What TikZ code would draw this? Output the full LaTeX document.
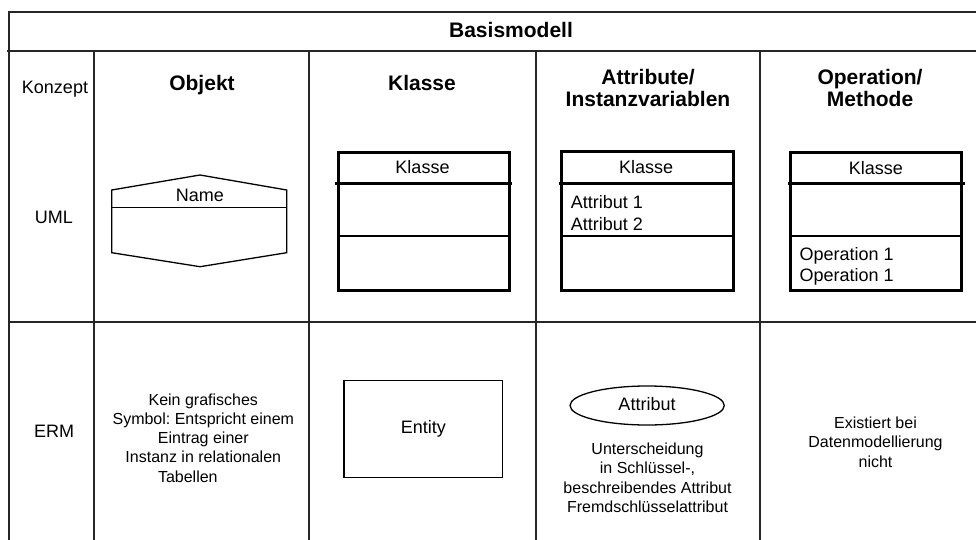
\documentclass[tikz,border=0pt]{standalone}
\usepackage{fontspec}
\setmainfont{Liberation Sans}
\usetikzlibrary{shapes.geometric}
\frenchspacing
\begin{document}
\begin{tikzpicture}[x=1pt,y=-1pt,
  grid/.style={line width=1.3pt, black!85},
  umlbox/.style={line width=3pt},
  umlsep/.style={line width=2.6pt},
  umlthin/.style={line width=1.3pt},
  shape line/.style={line width=1.3pt},
  head/.style={font=\fontsize{21}{22}\selectfont\bfseries, align=center, inner sep=0pt},
  lbl/.style={font=\fontsize{18}{20}\selectfont, inner sep=0pt},
  note/.style={font=\fontsize{16}{19.3}\selectfont, align=center, inner sep=0pt}]
\useasboundingbox (0,0) rectangle (976,540);

% table rules
\draw[grid] (9,540) -- (9,12) -- (976,12);
\draw[grid] (7,51) -- (976,51);
\draw[grid] (9,322) -- (976,322);
\foreach \x in {94,309,536,760} \draw[grid] (\x,51) -- (\x,540);

% title and column headers
\node[head] (title) at (511,30) {Basismodell};
\node[lbl, anchor=base] (konzept) at (55,93.3) {Konzept};
\node[head, anchor=base] (hobj) at (202,91) {Objekt};
\node[head, anchor=base] (hkl) at (422,91) {Klasse};
\node[head] (hattr) at (648,88) {Attribute/\\Instanzvariablen};
\node[head] (hop) at (870,88) {Operation/\\Methode};

% row labels
\node[lbl, anchor=base] (uml) at (54,223) {UML};
\node[lbl, anchor=base] (erm) at (54,437) {ERM};

% UML object symbol
\draw[shape line] (111.7,190) -- (200,175) -- (286.7,190) -- (286.7,252.7)
  -- (200,266.7) -- (111.7,252.7) -- cycle;
\draw[shape line] (110.7,207.7) -- (287.3,207.7);
\node[lbl, anchor=base] (name) at (200,201) {Name};

% UML class: Klasse
\draw[umlbox] (338.3,152.7) rectangle (509,290);
\draw[umlsep] (335,183.3) -- (511.7,183.3);
\draw[umlthin] (338.3,236) -- (509,236);
\node[lbl, anchor=base] (k1) at (422.5,173.3) {Klasse};

% UML class with attributes
\draw[umlbox] (561.7,151.7) rectangle (733.3,290);
\draw[umlsep] (559,183.3) -- (734.7,183.3);
\draw[umlthin] (561.7,236) -- (733.3,236);
\node[lbl, anchor=base] (k2) at (646.2,173.3) {Klasse};
\node[lbl, anchor=base west] (a1) at (570.7,208.3) {Attribut 1};
\node[lbl, anchor=base west] (a2) at (570.7,230) {Attribut 2};

% UML class with operations
\draw[umlbox] (790.7,152.7) rectangle (961.7,290);
\draw[umlsep] (788,183.3) -- (965,183.3);
\draw[umlthin] (790.7,236) -- (961.7,236);
\node[lbl, anchor=base] (k3) at (875.8,175) {Klasse};
\node[lbl, anchor=base west] (o1) at (799.3,260.7) {Operation 1};
\node[lbl, anchor=base west] (o2) at (799.3,281.7) {Operation 1};

% ERM row
\node[note] (objnote) at (203.3,437.9) {Kein grafisches\\Symbol: Entspricht einem\\Eintrag einer\hspace*{8pt}\\Instanz in relationalen\\Tabellen\hspace*{31pt}};
\node[draw, shape line, lbl, minimum width=158.7pt, minimum height=97pt] (entity) at (423.35,429.2) {Entity};
\node[draw, shape line, ellipse, minimum width=154.3pt, minimum height=39pt, inner sep=0pt] (attr) at (647.15,405.5) {};
\node[lbl, anchor=base] (attrlbl) at (647,410) {Attribut};
\node[note] (attnote) at (647.5,477.8) {Unterscheidung\\in Schlüssel-,\\beschreibendes Attribut\hspace*{32pt}\\Fremdschlüsselattribut};
\node[note] (opnote) at (875.5,442) {Existiert bei\\Datenmodellierung\\nicht};
\end{tikzpicture}
\end{document}
